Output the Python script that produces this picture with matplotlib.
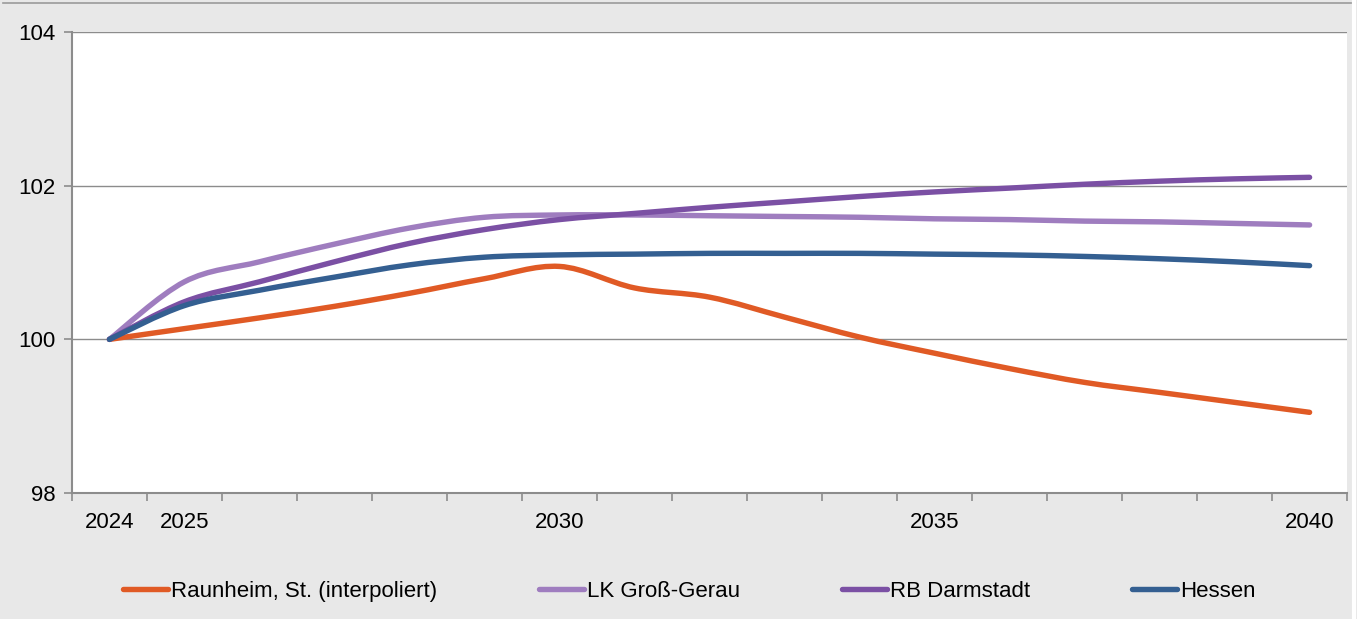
import matplotlib
matplotlib.use("Agg")
import matplotlib.pyplot as plt
from matplotlib.path import Path
from matplotlib.patches import PathPatch
from matplotlib.lines import Line2D

plt.rcParams['font.family'] = ['Liberation Sans', 'DejaVu Sans']

years = list(range(2024, 2041))
labels = ['2024', '2025', '', '', '', '', '2030', '', '', '', '', '2035', '', '', '', '', '2040']

raunheim = [100.0, 100.14, 100.28, 100.43, 100.60, 100.79, 100.95, 100.67, 100.55, 100.29,
            100.03, 99.82, 99.62, 99.44, 99.31, 99.18, 99.05]
grossgerau = [100.0, 100.75, 101.01, 101.24, 101.45, 101.59, 101.62, 101.62, 101.61, 101.60,
              101.59, 101.57, 101.56, 101.54, 101.53, 101.51, 101.49]
darmstadt = [100.0, 100.49, 100.75, 101.01, 101.25, 101.43, 101.56, 101.64, 101.72, 101.79,
             101.86, 101.92, 101.97, 102.02, 102.06, 102.09, 102.11]
hessen = [100.0, 100.44, 100.64, 100.81, 100.97, 101.07, 101.10, 101.11, 101.12, 101.12,
          101.12, 101.11, 101.10, 101.08, 101.05, 101.01, 100.96]

names = ['Raunheim, St. (interpoliert)', 'LK Groß-Gerau', 'RB Darmstadt', 'Hessen']
colors = ['#E05A25', '#9F7DBF', '#7B50A4', '#345F91']
series = [raunheim, grossgerau, darmstadt, hessen]


def smooth_path(xs, ys):
    # excel-style smoothed line as bezier segments through the data points
    verts = [(xs[0], ys[0])]
    codes = [Path.MOVETO]
    n = len(xs)
    for i in range(n - 1):
        x0, y0 = (xs[i - 1], ys[i - 1]) if i > 0 else (xs[i], ys[i])
        x1, y1 = xs[i], ys[i]
        x2, y2 = xs[i + 1], ys[i + 1]
        x3, y3 = (xs[i + 2], ys[i + 2]) if i + 2 < n else (x2, y2)
        c1 = (x1 + (x2 - x0) / 6, y1 + (y2 - y0) / 6)
        c2 = (x2 - (x3 - x1) / 6, y2 - (y3 - y1) / 6)
        verts += [c1, c2, (x2, y2)]
        codes += [Path.CURVE4] * 3
    return Path(verts, codes)


fig = plt.figure(figsize=(13.57, 6.19), dpi=100, facecolor='#E8E8E8')
ax = fig.add_axes([0.053, 0.2036, 0.9397, 0.7444])
ax.set_facecolor('white')

# thin frame bits around the chart area
fig.add_artist(Line2D([0.002, 0.997], [0.995, 0.995], color='#9A9A9A', lw=1.2))
fig.add_artist(Line2D([0.998, 0.998], [0, 1], color='white', lw=3))

xpos = list(range(len(years)))
for ys, c in zip(series, colors):
    patch = PathPatch(smooth_path(xpos, ys), facecolor='none', edgecolor=c,
                      lw=3.9, capstyle='round', joinstyle='round', zorder=3)
    ax.add_patch(patch)

ax.set_xlim(-0.5, 16.5)
ax.set_ylim(98, 104)
ax.set_yticks([98, 100, 102, 104])
ax.grid(axis='y', color='#8C8C8C', lw=1)
ax.set_axisbelow(True)

ax.set_xticks([i - 0.5 for i in range(18)])
ax.set_xticklabels([])
ax.set_xticks(xpos, minor=True)
ax.set_xticklabels(labels, minor=True)
ax.tick_params(axis='x', which='major', direction='out', length=6, color='#8C8C8C', width=1.2)
ax.tick_params(axis='x', which='minor', length=0, pad=14, labelsize=16)
ax.tick_params(axis='y', direction='out', length=6, color='#8C8C8C', width=1.2, labelsize=16, pad=6)

for s in ['top', 'right']:
    ax.spines[s].set_visible(False)
for s in ['left', 'bottom']:
    ax.spines[s].set_color('#8C8C8C')
    ax.spines[s].set_linewidth(1.5)

handles = [Line2D([], [], color=c, lw=3.9, solid_capstyle='round') for c in colors]
fig.legend(handles, names, loc='center', bbox_to_anchor=(0.508, 0.045), ncol=4,
           frameon=False, fontsize=16, handlelength=2.0, handletextpad=0.15,
           columnspacing=4.6)

fig.savefig('out.png', dpi=100, facecolor=fig.get_facecolor())
